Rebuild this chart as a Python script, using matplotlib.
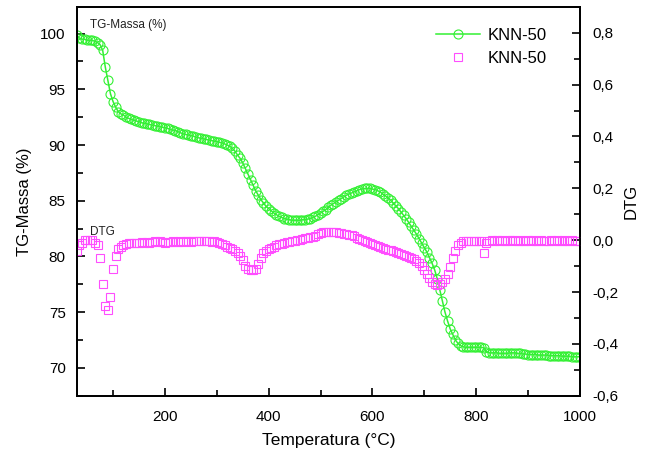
import numpy as np
import matplotlib
matplotlib.use("Agg")
import matplotlib.pyplot as plt
from matplotlib.ticker import MultipleLocator, FuncFormatter

plt.rcParams['font.family'] = ['Liberation Sans', 'DejaVu Sans']

# temperature grid (degC), one reading every 5 degC
temp = np.arange(30, 1001, 5)

# TG mass (%)
tg = [99.9, 99.6, 99.5, 99.5, 99.4, 99.4, 99.4, 99.3, 99.2, 99.0,
      98.5, 97.0, 95.8, 94.6, 93.9, 93.4, 93.0, 92.8, 92.7, 92.5,
      92.4, 92.3, 92.25, 92.15, 92.1, 92.0, 91.95, 91.9, 91.85, 91.8,
      91.75, 91.7, 91.65, 91.6, 91.55, 91.5, 91.4, 91.35, 91.3, 91.2,
      91.1, 91.0, 90.95, 90.9, 90.85, 90.8, 90.7, 90.65, 90.6, 90.55,
      90.5, 90.45, 90.4, 90.35, 90.3, 90.25, 90.2, 90.1, 90.0, 89.9,
      89.7, 89.45, 89.1, 88.8, 88.4, 87.9, 87.4, 86.9, 86.4, 85.9,
      85.5, 85.1, 84.8, 84.5, 84.3, 84.1, 83.9, 83.75, 83.6, 83.5,
      83.4, 83.35, 83.3, 83.25, 83.25, 83.25, 83.25, 83.3, 83.3, 83.35,
      83.4, 83.5, 83.6, 83.75, 83.9, 84.05, 84.2, 84.4, 84.6, 84.75,
      84.9, 85.05, 85.2, 85.35, 85.5, 85.6, 85.7, 85.8, 85.9, 86.0,
      86.05, 86.1, 86.1, 86.1, 86.05, 86.0, 85.9, 85.8, 85.6, 85.45,
      85.25, 85.05, 84.8, 84.55, 84.3, 84.0, 83.7, 83.4, 83.05, 82.7,
      82.35, 82.0, 81.6, 81.2, 80.8, 80.4, 79.9, 79.4, 78.8, 78.0,
      77.0, 76.0, 75.0, 74.2, 73.5, 73.0, 72.5, 72.2, 72.0, 71.9,
      71.85, 71.85, 71.85, 71.85, 71.85, 71.85, 71.85, 71.8, 71.45, 71.35,
      71.35, 71.35, 71.35, 71.3, 71.3, 71.3, 71.3, 71.35, 71.35, 71.35,
      71.3, 71.3, 71.25, 71.25, 71.2, 71.2, 71.2, 71.2, 71.15, 71.15,
      71.15, 71.15, 71.1, 71.1, 71.1, 71.1, 71.1, 71.05, 71.05, 71.05,
      71.05, 71.0, 71.0, 71.0, 71.0]

# DTG
dtg = [-0.04, -0.02, -0.01, 0.0, 0.0, 0.0, 0.0, -0.01, -0.02, -0.07,
       -0.17, -0.255, -0.27, -0.22, -0.11, -0.06, -0.035, -0.025, -0.02, -0.015,
       -0.012, -0.01, -0.012, -0.01, -0.012, -0.008, -0.01, -0.006, -0.01, -0.008,
       -0.005, -0.008, -0.004, -0.007, -0.01, -0.006, -0.008, -0.005, -0.008, -0.006,
       -0.004, -0.007, -0.005, -0.004, -0.006, -0.003, -0.005, -0.004, -0.003, -0.005,
       -0.004, -0.003, -0.006, -0.004, -0.007, -0.01, -0.015, -0.02, -0.025, -0.03,
       -0.035, -0.04, -0.05, -0.06, -0.077, -0.1, -0.112, -0.116, -0.116, -0.112,
       -0.09, -0.068, -0.05, -0.04, -0.033, -0.03, -0.025, -0.02, -0.016, -0.013,
       -0.01, -0.008, -0.006, -0.004, -0.002, 0.0, 0.002, 0.005, 0.008, 0.01,
       0.012, 0.014, 0.018, 0.022, 0.026, 0.03, 0.032, 0.033, 0.032, 0.031,
       0.03, 0.028, 0.027, 0.025, 0.023, 0.021, 0.019, 0.015, 0.01, 0.005,
       0.0, -0.005, -0.008, -0.012, -0.016, -0.02, -0.024, -0.027, -0.03, -0.033,
       -0.036, -0.039, -0.042, -0.045, -0.05, -0.055, -0.058, -0.061, -0.064, -0.068,
       -0.073, -0.08, -0.088, -0.1, -0.115, -0.13, -0.145, -0.16, -0.168, -0.172,
       -0.168, -0.16, -0.148, -0.13, -0.105, -0.07, -0.04, -0.02, -0.01, -0.005,
       -0.003, -0.004, -0.002, -0.004, -0.003, -0.002, -0.005, -0.048, -0.01, -0.003,
       0.0, -0.002, 0.001, -0.003, 0.0, -0.002, -0.004, -0.001, 0.002, -0.003,
       -0.002, 0.0, -0.004, -0.002, -0.001, -0.003, 0.0, -0.004, -0.002, -0.001,
       -0.003, -0.005, -0.002, -0.001, -0.004, 0.0, -0.002, -0.003, -0.001, -0.004,
       -0.002, 0.0, -0.003, -0.005, -0.004]

green = '#33f033'
magenta = '#ff4dff'

fig = plt.figure(figsize=(6.45, 4.57), dpi=100)
ax = fig.add_axes([0.119, 0.134, 0.780, 0.851])
ax2 = ax.twinx()

l1, = ax.plot(temp, tg, color=green, lw=1.1, marker='o', ms=6.5,
              mfc='none', mec=green, mew=0.8, label='KNN-50')
l2, = ax2.plot(temp, dtg, ls='none', marker='s', ms=6, mfc='none',
               mec=magenta, mew=0.8, label='KNN-50')

ax.set_xlim(30, 1000)
ax.set_ylim(67.5, 102.4)
ax2.set_ylim(-0.6, 0.9)

ax.xaxis.set_major_locator(MultipleLocator(200))
ax.xaxis.set_minor_locator(MultipleLocator(100))
ax.yaxis.set_major_locator(MultipleLocator(5))
ax.yaxis.set_minor_locator(MultipleLocator(2.5))
ax2.yaxis.set_major_locator(MultipleLocator(0.2))
ax2.yaxis.set_minor_locator(MultipleLocator(0.1))
ax2.yaxis.set_major_formatter(FuncFormatter(lambda v, p: f"{v:.1f}".replace('.', ',').replace('-0,0', '0,0')))

for a in (ax, ax2):
    a.tick_params(which='both', direction='in', labelsize=11, width=1.2)
    a.tick_params(which='major', length=6)
    a.tick_params(which='minor', length=4)
    for s in a.spines.values():
        s.set_linewidth(1.3)
ax.tick_params(axis='y', right=False, which='both', pad=8)
ax.tick_params(axis='x', top=False, which='both', pad=10)
ax2.tick_params(axis='y', pad=9)

ax.set_xlabel('Temperatura (°C)', fontsize=12.5, labelpad=7)
ax.set_ylabel('TG-Massa (%)', fontsize=12, labelpad=6)
ax2.set_ylabel('DTG', fontsize=12, labelpad=4)

ax.text(55, 100.8, 'TG-Massa (%)', fontsize=8.5, color='#222222', va='center')
ax2.text(55, 0.031, 'DTG', fontsize=8.5, color='#222222', va='center')

ax2.legend([l1, l2], ['KNN-50', 'KNN-50'], loc='upper right',
           bbox_to_anchor=(0.965, 0.985), frameon=False, fontsize=12,
           handlelength=2.6, handletextpad=0.5, labelspacing=0.5)

fig.savefig('out.png', dpi=100)
